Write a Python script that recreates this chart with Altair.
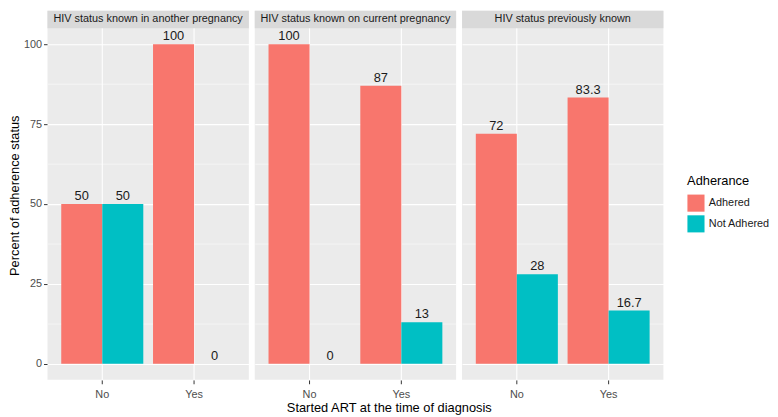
import altair as alt
import pandas as pd

# values
panels = [
    "HIV status known in another pregnancy",
    "HIV status known on current pregnancy",
    "HIV status previously known",
]
started = ["No", "Yes"]
adherence = ["Adhered", "Not Adhered"]
adhered_pct = [[50, 100], [100, 87], [72, 83.3]]
not_adhered_pct = [[50, 0], [0, 13], [28, 16.7]]
adhered_lbl = [["50", "100"], ["100", "87"], ["72", "83.3"]]
not_adhered_lbl = [["50", "0"], ["0", "13"], ["28", "16.7"]]

rows = []
for i, panel in enumerate(panels):
    for j, s in enumerate(started):
        rows.append(dict(Status=panel, Started=s, Adherence=adherence[0],
                         Percent=adhered_pct[i][j], Label=adhered_lbl[i][j]))
        rows.append(dict(Status=panel, Started=s, Adherence=adherence[1],
                         Percent=not_adhered_pct[i][j], Label=not_adhered_lbl[i][j]))
df = pd.DataFrame(rows)

W = 204
H = 374
FONT = "Liberation Sans"
major = "datum.value % 25 === 0"

x_enc = alt.X(
    "Started:N",
    sort=started,
    title=None,
    scale=alt.Scale(paddingInner=0.106, paddingOuter=0.15),
    axis=alt.Axis(
        bandPosition=0.5, grid=True, gridColor="white", gridWidth=1.1,
        labelAngle=0, domain=False, tickColor="#333333", tickSize=4,
        labelColor="#4D4D4D", labelFontSize=11, labelFont=FONT, labelPadding=5,
    ),
)
y_enc = alt.Y(
    "Percent:Q",
    title="Percent of adherence status",
    scale=alt.Scale(domain=[-5, 110.5], nice=False, zero=False),
    axis=alt.Axis(
        values=[0, 12.5, 25, 37.5, 50, 62.5, 75, 87.5, 100],
        labelExpr=f"{major} ? datum.label : ''",
        gridColor="white",
        gridWidth={"condition": {"test": major, "value": 1.1}, "value": 0.5},
        tickOpacity={"condition": {"test": major, "value": 1}, "value": 0},
        domain=False, tickColor="#333333", tickSize=4,
        labelColor="#4D4D4D", labelFontSize=11, labelFont=FONT, labelPadding=2,
        titleFontSize=13, titleFont=FONT, titleFontWeight="normal",
        titleColor="black", titlePadding=2,
    ),
)
color_enc = alt.Color(
    "Adherence:N",
    scale=alt.Scale(domain=adherence, range=["#F8766D", "#00BFC4"]),
    legend=alt.Legend(
        title="Adherance", orient="none", legendX=648, legendY=167,
        symbolType="square", symbolSize=300, symbolStrokeWidth=0,
        titleFontSize=13, titleFont=FONT, titleFontWeight="normal",
        labelFontSize=11, labelFont=FONT, labelColor="#1A1A1A",
        rowPadding=3, titlePadding=6,
    ),
)

bars = alt.Chart().mark_bar().encode(
    x=x_enc, xOffset=alt.XOffset("Adherence:N", sort=adherence),
    y=y_enc, color=color_enc,
)
labels = alt.Chart().mark_text(
    baseline="bottom", dy=-1, fontSize=13, font=FONT, color="#1A1A1A"
).encode(
    x=alt.X("Started:N", sort=started),
    xOffset=alt.XOffset("Adherence:N", sort=adherence),
    y="Percent:Q", text="Label:N",
)
one_row = "datum.Started === 'No' && datum.Adherence === 'Adhered'"
strip = alt.Chart().transform_filter(one_row).mark_rect(color="#D9D9D9").encode(
    x=alt.value(0), x2=alt.value(W), y=alt.datum(105), y2=alt.datum(110.5),
)
strip_text = alt.Chart().transform_filter(one_row).mark_text(
    fontSize=11, font=FONT, color="#1A1A1A", baseline="middle"
).encode(
    x=alt.value(W / 2), y=alt.datum(107.75), text="Status:N",
)

chart = (
    alt.layer(bars, labels, strip, strip_text, data=df)
    .properties(width=W, height=H)
    .facet(
        column=alt.Column("Status:N", title=None, sort=panels,
                          header=alt.Header(labels=False)),
        spacing=6,
    )
    .properties(
        padding={"left": 0, "top": 0, "right": 0, "bottom": 0},
        title=alt.Title(
            "Started ART at the time of diagnosis", orient="bottom",
            anchor="middle", fontSize=13, font=FONT, fontWeight="normal",
            color="black", offset=3,
        ),
    )
    .configure(background="white")
    .configure_view(fill="#EBEBEB", strokeWidth=0)
)

chart.save("out.html", embed_options={"renderer": "svg", "actions": False})
